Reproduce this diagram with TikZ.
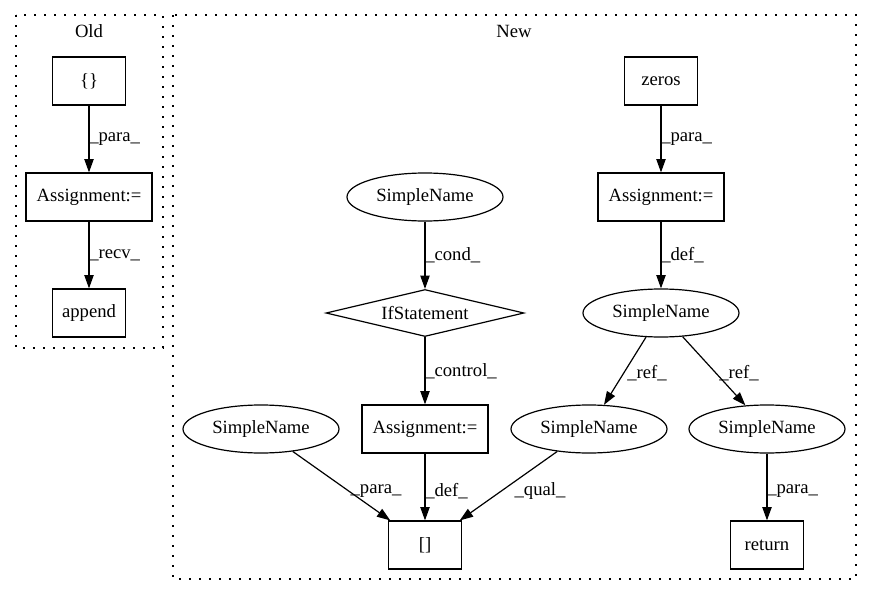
\documentclass[tikz,border=0pt]{standalone}
\usepackage{fontspec}
\setmainfont{Liberation Serif}
\usetikzlibrary{shapes.geometric,arrows.meta}
\begin{document}
\begin{tikzpicture}[x=0.75pt,y=-0.75pt,
  font=\fontsize{14pt}{16pt}\selectfont,
  box/.style={draw, line width=0.9pt, rectangle, minimum width=54.75pt, minimum height=36pt, inner sep=0pt},
  wbox/.style={box, minimum width=94.5pt},
  oval/.style={draw, line width=0.9pt, ellipse, minimum width=117pt, minimum height=36pt, inner sep=0pt},
  decision/.style={draw, line width=0.9pt, diamond, minimum width=148.5pt, minimum height=35.25pt, inner sep=0pt, shape aspect=4.2},
  arr/.style={draw, line width=0.9pt, -{Triangle[length=10pt,width=7pt]}},
  lbl/.style={inner sep=0pt, anchor=west},
  cluster/.style={draw, line width=0.9pt, dash pattern=on 1.2pt off 6.3pt},
]
\useasboundingbox (0,0) rectangle (872,596);
\draw[cluster] (16,15) rectangle (163,348);
\draw[cluster] (173,15) rectangle (856,579);
\node (toldname) at (89,31) {Old};
\node (tnewname) at (514,31) {New};

\node[box] (brace) at (89,81) {\{\}};
\node[wbox] (asgold) at (89,197) {Assignment:=};
\node[box] (append) at (89,313) {append};

\node[box] (zeros) at (661,81) {zeros};
\node[wbox] (asgnew) at (661,197) {Assignment:=};
\node[oval] (sncond) at (425,197) {SimpleName};
\node[oval] (sndef) at (661,313) {SimpleName};
\node[decision] (ifst) at (425,313) {IfStatement};
\node[wbox] (asgmid) at (425,429) {Assignment:=};
\node[oval] (snleft) at (261,429) {SimpleName};
\node[oval] (snmid) at (589,429) {SimpleName};
\node[oval] (snright) at (767,429) {SimpleName};
\node[box] (idx) at (425,545) {[]};
\node[box] (ret) at (767,545) {return};

\draw[arr] (brace) -- (asgold);
\node[lbl] (l1) at (89,139) {\_para\_};
\draw[arr] (asgold) -- (append);
\node[lbl] (l2) at (89,255) {\_recv\_};

\draw[arr] (zeros) -- (asgnew);
\node[lbl] (l3) at (661,139) {\_para\_};
\draw[arr] (asgnew) -- (sndef);
\node[lbl] (l4) at (661,255) {\_def\_};
\draw[arr] (sncond) -- (ifst);
\node[lbl] (l5) at (425,255) {\_cond\_};
\draw[arr] (ifst) -- (asgmid);
\node[lbl] (l6) at (425,371) {\_control\_};
\draw[arr] (sndef) -- (snmid);
\node (l7) at (647,373) {\_ref\_};
\draw[arr] (sndef) -- (snright);
\node (l8) at (739,373) {\_ref\_};
\draw[arr] (snleft) -- (idx);
\node (l9) at (376,491) {\_para\_};
\draw[arr] (asgmid) -- (idx);
\node[lbl] (l10) at (425,491) {\_def\_};
\draw[arr] (snmid) -- (idx);
\node (l11) at (540,491) {\_qual\_};
\draw[arr] (snright) -- (ret);
\node[lbl] (l12) at (767,491) {\_para\_};
\end{tikzpicture}
\end{document}
